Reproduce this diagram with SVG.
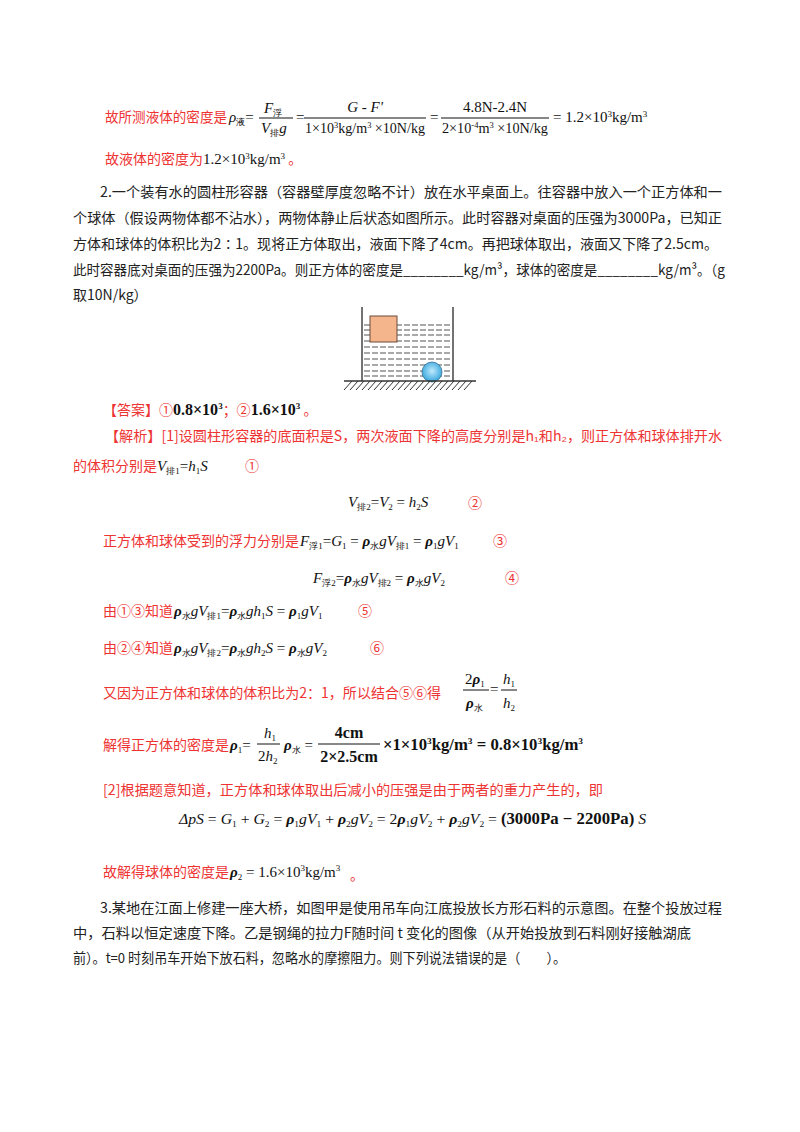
<svg xmlns="http://www.w3.org/2000/svg" width="800" height="1132" viewBox="0 0 800 1132">
<style>
.r{fill:#ee3333;font-family:"Noto Sans CJK SC",sans-serif;font-size:14px}
.k{fill:#222;font-family:"Noto Sans CJK SC",sans-serif;font-size:14px}
.m{fill:#111;font-family:"Liberation Serif",serif;font-size:15px;font-style:italic}
.n{fill:#111;font-family:"Liberation Serif",serif;font-size:15px}
.b{fill:#111;font-family:"Liberation Serif",serif;font-size:16px;font-weight:bold}
.s{font-size:9px}
.fl{stroke:#111;stroke-width:1}
</style>
<rect width="800" height="1132" fill="#fff"/>
<g id="line1">
<text class="r" x="105" y="122" textLength="122" lengthAdjust="spacingAndGlyphs">故所测液体的密度是</text>
<text class="m" x="229" y="122">ρ<tspan class="s" dy="3" font-style="normal">液</tspan><tspan dy="-3" font-style="normal">=</tspan></text>
<text class="m" x="264" y="113">F<tspan class="s" dy="3" font-style="normal">浮</tspan></text>
<line class="fl" x1="259" y1="118" x2="293" y2="118"/>
<text class="m" x="261" y="133">V<tspan class="s" dy="3" font-style="normal">排</tspan><tspan dy="-3">g</tspan></text>
<text class="n" x="296" y="122">=</text>
<text class="m" x="365" y="112" text-anchor="middle">G - F'</text>
<line class="fl" x1="304" y1="118" x2="426" y2="118"/>
<text class="n" x="305" y="133" font-size="13" textLength="120" lengthAdjust="spacingAndGlyphs">1×10<tspan class="s" dy="-5">3</tspan><tspan dy="5">kg/m</tspan><tspan class="s" dy="-5">3</tspan><tspan dy="5"> ×10N/kg</tspan></text>
<text class="n" x="430" y="122">=</text>
<text class="n" x="495" y="112" font-size="13" text-anchor="middle">4.8N-2.4N</text>
<line class="fl" x1="441" y1="118" x2="549" y2="118"/>
<text class="n" x="442" y="133" font-size="13" textLength="106" lengthAdjust="spacingAndGlyphs">2×10<tspan class="s" dy="-5">-4</tspan><tspan dy="5">m</tspan><tspan class="s" dy="-5">3</tspan><tspan dy="5"> ×10N/kg</tspan></text>
<text class="n" x="553" y="122" font-size="13">= 1.2×10<tspan class="s" dy="-5">3</tspan><tspan dy="5">kg/m</tspan><tspan class="s" dy="-5">3</tspan></text>
</g>
<g id="line2">
<text class="r" x="105" y="164">故液体的密度为<tspan class="n" font-size="13">1.2×10<tspan class="s" dy="-5">3</tspan><tspan dy="5">kg/m</tspan><tspan class="s" dy="-5">3</tspan></tspan><tspan dy="5"> 。</tspan></text>
</g>
<g id="problem2" class="k">
<text x="100" y="197" textLength="622" lengthAdjust="spacingAndGlyphs">2.一个装有水的圆柱形容器（容器壁厚度忽略不计）放在水平桌面上。往容器中放入一个正方体和一</text>
<text x="73" y="223" textLength="649" lengthAdjust="spacingAndGlyphs">个球体（假设两物体都不沾水），两物体静止后状态如图所示。此时容器对桌面的压强为3000Pa，已知正</text>
<text x="73" y="249" textLength="645" lengthAdjust="spacingAndGlyphs">方体和球体的体积比为2∶1。现将正方体取出，液面下降了4cm。再把球体取出，液面又下降了2.5cm。</text>
<text x="73" y="275" textLength="652" lengthAdjust="spacingAndGlyphs">此时容器底对桌面的压强为2200Pa。则正方体的密度是________kg/m³，球体的密度是________kg/m³。（g</text>
<text x="73" y="300">取10N/kg）</text>
</g>
<g id="figure">
<g stroke="#555" stroke-width="1.2" stroke-dasharray="6,2">
<line x1="364" y1="325" x2="452" y2="325"/><line x1="364" y1="330" x2="452" y2="330"/>
<line x1="364" y1="335" x2="452" y2="335"/><line x1="364" y1="341" x2="452" y2="341"/>
<line x1="364" y1="347" x2="452" y2="347"/><line x1="364" y1="353" x2="452" y2="353"/>
<line x1="364" y1="359" x2="452" y2="359"/><line x1="364" y1="365" x2="452" y2="365"/>
<line x1="364" y1="371" x2="452" y2="371"/><line x1="364" y1="376" x2="452" y2="376"/>
</g>
<rect x="370" y="316" width="27" height="26" fill="#f4b58d" stroke="#6b4a3a" stroke-width="1"/>
<defs><radialGradient id="ball" cx="0.5" cy="0.45" r="0.6"><stop offset="0" stop-color="#bfe9fb"/><stop offset="1" stop-color="#2aa0dc"/></radialGradient></defs>
<circle cx="432" cy="372" r="10" fill="url(#ball)" stroke="#3a6f90" stroke-width="0.8"/>
<line x1="362" y1="307" x2="362" y2="381" stroke="#444" stroke-width="1.5"/>
<line x1="453" y1="307" x2="453" y2="381" stroke="#444" stroke-width="1.5"/>
<line x1="344" y1="381" x2="476" y2="381" stroke="#333" stroke-width="1.5"/>
<path stroke="#333" stroke-width="1" d="M344 390l8-9M350 390l8-9M356 390l8-9M362 390l8-9M368 390l8-9M374 390l8-9M380 390l8-9M386 390l8-9M392 390l8-9M398 390l8-9M404 390l8-9M410 390l8-9M416 390l8-9M422 390l8-9M428 390l8-9M434 390l8-9M440 390l8-9M446 390l8-9M452 390l8-9M458 390l8-9M464 390l8-9"/>
</g>
<g id="answer">
<text class="r" x="103" y="415">【答案】①<tspan class="b">0.8×10<tspan class="s" dy="-6">3</tspan></tspan><tspan dy="6">；②</tspan><tspan class="b">1.6×10<tspan class="s" dy="-6">3</tspan></tspan><tspan dy="6"> 。</tspan></text>
</g>
<g id="analysis">
<text class="r" x="105" y="441" textLength="617" lengthAdjust="spacingAndGlyphs">【解析】[1]设圆柱形容器的底面积是S，两次液面下降的高度分别是h₁和h₂，则正方体和球体排开水</text>
<text class="r" x="73" y="471">的体积分别是</text>
<text class="m" x="157" y="471">V<tspan class="s" dy="3" font-style="normal">排1</tspan><tspan dy="-3" font-style="normal">=</tspan>h<tspan class="s" dy="3" font-style="normal">1</tspan><tspan dy="-3">S</tspan></text>
<text class="r" x="245" y="471">①</text>
<text class="m" x="348" y="507">V<tspan class="s" dy="3" font-style="normal">排2</tspan><tspan dy="-3" font-style="normal">=</tspan>V<tspan class="s" dy="3" font-style="normal">2</tspan><tspan dy="-3" font-style="normal"> = </tspan>h<tspan class="s" dy="3" font-style="normal">2</tspan><tspan dy="-3">S</tspan></text>
<text class="r" x="468" y="508">②</text>
<text class="r" x="103" y="546">正方体和球体受到的浮力分别是</text>
<text class="m" x="300" y="546">F<tspan class="s" dy="3" font-style="normal">浮1</tspan><tspan dy="-3" font-style="normal">=</tspan>G<tspan class="s" dy="3" font-style="normal">1</tspan><tspan dy="-3" font-style="normal"> = </tspan><tspan font-weight="bold">ρ</tspan><tspan class="s" dy="3" font-style="normal">水</tspan><tspan dy="-3">gV</tspan><tspan class="s" dy="3" font-style="normal">排1</tspan><tspan dy="-3" font-style="normal"> = </tspan><tspan font-weight="bold">ρ</tspan><tspan class="s" dy="3" font-style="normal">1</tspan><tspan dy="-3">gV</tspan><tspan class="s" dy="3" font-style="normal">1</tspan></text>
<text class="r" x="493" y="546">③</text>
<text class="m" x="313" y="583">F<tspan class="s" dy="3" font-style="normal">浮2</tspan><tspan dy="-3" font-style="normal">=</tspan><tspan font-weight="bold">ρ</tspan><tspan class="s" dy="3" font-style="normal">水</tspan><tspan dy="-3">gV</tspan><tspan class="s" dy="3" font-style="normal">排2</tspan><tspan dy="-3" font-style="normal"> = </tspan><tspan font-weight="bold">ρ</tspan><tspan class="s" dy="3" font-style="normal">水</tspan><tspan dy="-3">gV</tspan><tspan class="s" dy="3" font-style="normal">2</tspan></text>
<text class="r" x="505" y="583">④</text>
<text class="r" x="103" y="616">由①③知道</text>
<text class="m" x="174" y="616"><tspan font-weight="bold">ρ</tspan><tspan class="s" dy="3" font-style="normal">水</tspan><tspan dy="-3">gV</tspan><tspan class="s" dy="3" font-style="normal">排1</tspan><tspan dy="-3" font-style="normal">=</tspan><tspan font-weight="bold">ρ</tspan><tspan class="s" dy="3" font-style="normal">水</tspan><tspan dy="-3">gh</tspan><tspan class="s" dy="3" font-style="normal">1</tspan><tspan dy="-3">S</tspan><tspan font-style="normal"> = </tspan><tspan font-weight="bold">ρ</tspan><tspan class="s" dy="3" font-style="normal">1</tspan><tspan dy="-3">gV</tspan><tspan class="s" dy="3" font-style="normal">1</tspan></text>
<text class="r" x="358" y="616">⑤</text>
<text class="r" x="103" y="653">由②④知道</text>
<text class="m" x="174" y="653"><tspan font-weight="bold">ρ</tspan><tspan class="s" dy="3" font-style="normal">水</tspan><tspan dy="-3">gV</tspan><tspan class="s" dy="3" font-style="normal">排2</tspan><tspan dy="-3" font-style="normal">=</tspan><tspan font-weight="bold">ρ</tspan><tspan class="s" dy="3" font-style="normal">水</tspan><tspan dy="-3">gh</tspan><tspan class="s" dy="3" font-style="normal">2</tspan><tspan dy="-3">S</tspan><tspan font-style="normal"> = </tspan><tspan font-weight="bold">ρ</tspan><tspan class="s" dy="3" font-style="normal">水</tspan><tspan dy="-3">gV</tspan><tspan class="s" dy="3" font-style="normal">2</tspan></text>
<text class="r" x="370" y="653">⑥</text>
<text class="r" x="103" y="698" textLength="338" lengthAdjust="spacingAndGlyphs">又因为正方体和球体的体积比为2：1，所以结合⑤⑥得</text>
<text class="m" x="465" y="684"><tspan font-style="normal">2</tspan><tspan font-weight="bold">ρ</tspan><tspan class="s" dy="3" font-style="normal">1</tspan></text>
<line class="fl" x1="463" y1="690" x2="489" y2="690"/>
<text class="m" x="466" y="708"><tspan font-weight="bold">ρ</tspan><tspan class="s" dy="3" font-style="normal">水</tspan></text>
<text class="n" x="490" y="694">=</text>
<text class="m" x="503" y="684">h<tspan class="s" dy="3" font-style="normal">1</tspan></text>
<line class="fl" x1="501" y1="690" x2="517" y2="690"/>
<text class="m" x="503" y="708">h<tspan class="s" dy="3" font-style="normal">2</tspan></text>
<text class="r" x="103" y="750">解得正方体的密度是</text>
<text class="m" x="230" y="750"><tspan font-weight="bold">ρ</tspan><tspan class="s" dy="3" font-style="normal">1</tspan><tspan dy="-3" font-style="normal">=</tspan></text>
<text class="m" x="264" y="738">h<tspan class="s" dy="3" font-style="normal">1</tspan></text>
<line class="fl" x1="257" y1="744" x2="280" y2="744"/>
<text class="m" x="258" y="761"><tspan font-style="normal">2</tspan>h<tspan class="s" dy="3" font-style="normal">2</tspan></text>
<text class="m" x="284" y="750"><tspan font-weight="bold">ρ</tspan><tspan class="s" dy="3" font-style="normal">水</tspan><tspan dy="-3" font-style="normal"> = </tspan></text>
<text class="b" x="349" y="738" text-anchor="middle">4cm</text>
<line class="fl" x1="318" y1="744" x2="380" y2="744"/>
<text class="b" x="349" y="762" text-anchor="middle">2×2.5cm</text>
<text class="b" x="383" y="750" textLength="200" lengthAdjust="spacingAndGlyphs">×1×10<tspan class="s" dy="-6">3</tspan><tspan dy="6">kg/m</tspan><tspan class="s" dy="-6">3</tspan><tspan dy="6"> = 0.8×10</tspan><tspan class="s" dy="-6">3</tspan><tspan dy="6">kg/m</tspan><tspan class="s" dy="-6">3</tspan></text>
<text class="r" x="103" y="795" textLength="500" lengthAdjust="spacingAndGlyphs">[2]根据题意知道，正方体和球体取出后减小的压强是由于两者的重力产生的，即</text>
<text class="m" x="179" y="824" textLength="467" lengthAdjust="spacingAndGlyphs">Δ<tspan>pS</tspan><tspan font-style="normal"> = </tspan>G<tspan class="s" dy="3" font-style="normal">1</tspan><tspan dy="-3" font-style="normal"> + </tspan>G<tspan class="s" dy="3" font-style="normal">2</tspan><tspan dy="-3" font-style="normal"> = </tspan><tspan font-weight="bold">ρ</tspan><tspan class="s" dy="3" font-style="normal">1</tspan><tspan dy="-3">gV</tspan><tspan class="s" dy="3" font-style="normal">1</tspan><tspan dy="-3" font-style="normal"> + </tspan><tspan font-weight="bold">ρ</tspan><tspan class="s" dy="3" font-style="normal">2</tspan><tspan dy="-3">gV</tspan><tspan class="s" dy="3" font-style="normal">2</tspan><tspan dy="-3" font-style="normal"> = 2</tspan><tspan font-weight="bold">ρ</tspan><tspan class="s" dy="3" font-style="normal">1</tspan><tspan dy="-3">gV</tspan><tspan class="s" dy="3" font-style="normal">2</tspan><tspan dy="-3" font-style="normal"> + </tspan><tspan font-weight="bold">ρ</tspan><tspan class="s" dy="3" font-style="normal">2</tspan><tspan dy="-3">gV</tspan><tspan class="s" dy="3" font-style="normal">2</tspan><tspan dy="-3" font-style="normal"> = </tspan><tspan font-style="normal" font-weight="bold" font-size="16">(3000Pa − 2200Pa)</tspan><tspan> S</tspan></text>
<text class="r" x="103" y="877">故解得球体的密度是</text>
<text class="m" x="230" y="877"><tspan font-weight="bold">ρ</tspan><tspan class="s" dy="3" font-style="normal">2</tspan><tspan dy="-3" font-style="normal"> = 1.6×10</tspan><tspan class="s" dy="-6" font-style="normal">3</tspan><tspan dy="6" font-style="normal">kg/m</tspan><tspan class="s" dy="-6" font-style="normal">3</tspan></text>
<text class="r" x="350" y="880">。</text>
</g>
<g id="problem3" class="k">
<text x="100" y="913" textLength="622" lengthAdjust="spacingAndGlyphs">3.某地在江面上修建一座大桥，如图甲是使用吊车向江底投放长方形石料的示意图。在整个投放过程</text>
<text x="73" y="938" textLength="618" lengthAdjust="spacingAndGlyphs">中，石料以恒定速度下降。乙是钢绳的拉力F随时间 t 变化的图像（从开始投放到石料刚好接触湖底</text>
<text x="73" y="963" textLength="493" lengthAdjust="spacingAndGlyphs">前）。t=0 时刻吊车开始下放石料，忽略水的摩擦阻力。则下列说法错误的是（　　）。</text>
</g>
</svg>
